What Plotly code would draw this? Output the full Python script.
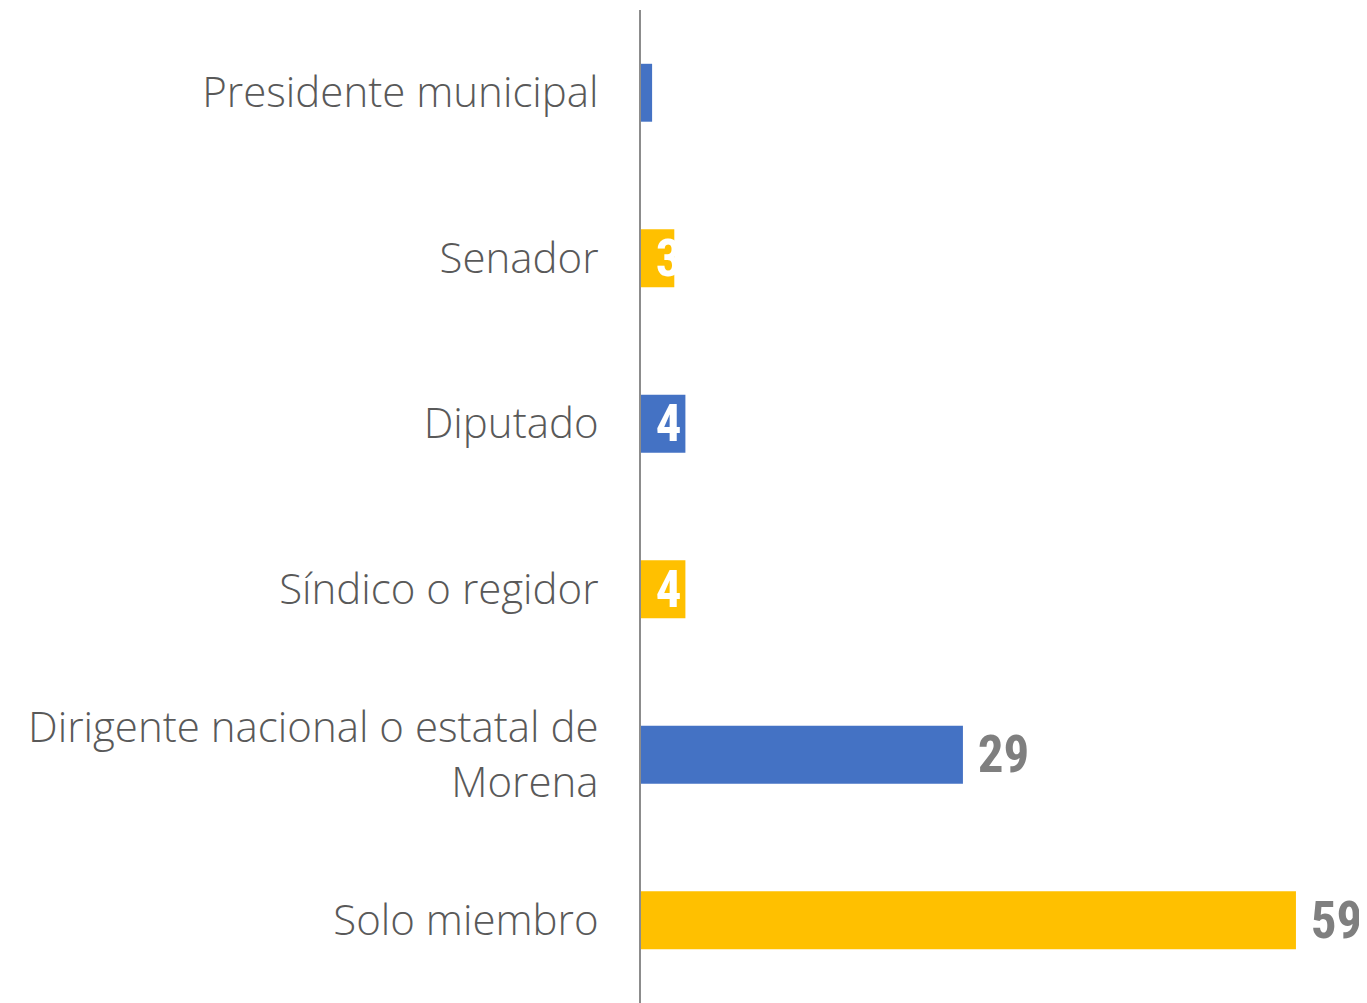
import plotly.graph_objects as go

categories = ["Presidente municipal", "Senador", "Diputado", "Síndico o regidor",
              "Dirigente nacional o estatal de<br>Morena", "Solo miembro"]
values = [1, 3, 4, 4, 29, 59]
bar_colors = ["#4472C4", "#FFC000", "#4472C4", "#FFC000", "#4472C4", "#FFC000"]
text_positions = ["inside", "inside", "inside", "inside", "outside", "outside"]

label_font = "Roboto Condensed, Open Sans Condensed, sans-serif"

fig = go.Figure(go.Bar(
    x=values,
    y=categories,
    orientation="h",
    marker=dict(color=bar_colors, line=dict(width=0)),
    texttemplate="\u00a0%{x}",
    textposition=text_positions,
    insidetextanchor="start",
    constraintext="none",
    textangle=0,
    insidetextfont=dict(family=label_font, size=51, color="white", weight="bold"),
    outsidetextfont=dict(family=label_font, size=51, color="#7F7F7F", weight="bold"),
    cliponaxis=False,
    hoverinfo="skip",
))

# page body has an 8px margin; figure is sized/margined to compensate
fig.update_layout(
    width=1359, height=995,
    margin=dict(l=633, r=0, t=2, b=0, autoexpand=False),
    paper_bgcolor="white", plot_bgcolor="white",
    bargap=0.65,
    showlegend=False,
    xaxis=dict(visible=False, range=[0, 65.4], showgrid=False, zeroline=False, automargin=False),
    yaxis=dict(
        autorange="reversed",
        automargin=False,
        showgrid=False, zeroline=False,
        showline=True, linecolor="#8C8C8C", linewidth=2,
        ticks="", ticklabelstandoff=32,
        tickfont=dict(family="Open Sans, Noto Sans, sans-serif", size=42, color="#595959", weight=300),
    ),
)

fig.write_html("out.html")
